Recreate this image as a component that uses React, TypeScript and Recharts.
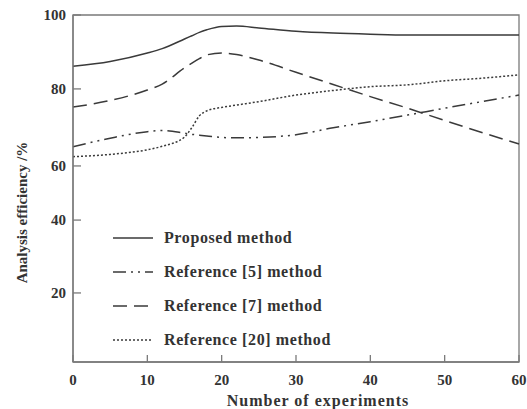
import { LineChart, Line, XAxis, YAxis, Legend, ReferenceArea } from "recharts";

// number of experiments (x) and analysis efficiency (%) per method
const experiments = [0, 5, 10, 12, 15, 16, 17, 18, 20, 22, 25, 30, 35, 40, 45, 50, 55, 60];
const proposed = [86.1, 87.4, 89.7, 90.9, 93.5, 94.4, 95.3, 96.0, 96.9, 97.0, 96.5, 95.6, 95.1, 94.8, 94.6, 94.6, 94.6, 94.6];
const ref5 = [65.0, 67.2, 68.9, 69.2, 68.5, 68.2, 68.0, 67.8, 67.4, 67.3, 67.4, 68.1, 69.9, 71.5, 73.2, 75.0, 76.7, 78.4];
const ref7 = [75.3, 77.0, 79.7, 81.3, 85.7, 87.0, 88.2, 89.2, 89.7, 89.3, 87.8, 84.5, 81.2, 78.0, 75.0, 71.8, 68.7, 65.7];
const ref20 = [62.4, 63.0, 64.2, 65.1, 67.5, 70.0, 73.0, 74.3, 75.2, 75.8, 76.7, 78.4, 79.6, 80.6, 81.1, 82.2, 82.9, 83.8];

const xTicks = [0, 10, 20, 30, 40, 50, 60];
const yTicks = [20, 40, 60, 80, 100];

// the original figure's y axis is not evenly spaced: where each mark sits (0..1 along the axis)
const yMarks = [0, 20, 40, 60, 80, 100];
const yMarkPos = [0, 0.199, 0.409, 0.565, 0.787, 1];

const series = [
  { key: "proposed", name: "Proposed method", dash: undefined as string | undefined },
  { key: "ref5", name: "Reference [5] method", dash: "13 5 2 5 2 5" },
  { key: "ref7", name: "Reference [7] method", dash: "14 7" },
  { key: "ref20", name: "Reference [20] method", dash: "2 2" },
];

const rows = experiments.map((x, i) => ({
  x,
  proposed: proposed[i],
  ref5: ref5[i],
  ref7: ref7[i],
  ref20: ref20[i],
}));

function piecewiseScale(): any {
  let dom: number[] = [0, 100];
  let rng: number[] = [0, 1];
  const s: any = (v: number) => {
    let i = 0;
    while (i < yMarks.length - 2 && v > yMarks[i + 1]) i++;
    const f = yMarkPos[i] + ((v - yMarks[i]) / (yMarks[i + 1] - yMarks[i])) * (yMarkPos[i + 1] - yMarkPos[i]);
    return rng[0] + (rng[1] - rng[0]) * f;
  };
  s.domain = (d?: number[]) => {
    if (d === undefined) return dom.slice();
    dom = d.slice();
    return s;
  };
  s.range = (r?: number[]) => {
    if (r === undefined) return rng.slice();
    rng = r.slice();
    return s;
  };
  s.ticks = () => yTicks;
  s.copy = () => piecewiseScale().domain(dom).range(rng);
  return s;
}

const FONT = '"Liberation Serif", "Times New Roman", serif';
const INK = "#333";
const LINE = "#3a3a3a";
const AXIS = "#7a7a7a";

function LegendBox() {
  return (
    <div style={{ fontFamily: FONT, fontWeight: 700, fontSize: 16, color: INK, letterSpacing: 0.6 }}>
      {series.map((s) => (
        <div key={s.key} style={{ display: "flex", alignItems: "center", height: 34 }}>
          <svg width={40} height={10} style={{ marginRight: 11 }}>
            <line x1={0} y1={5} x2={40} y2={5} stroke={LINE} strokeWidth={1.5} strokeDasharray={s.dash} />
          </svg>
          <span>{s.name}</span>
        </div>
      ))}
    </div>
  );
}

export default function App() {
  const tickStyle = { fontFamily: FONT, fontWeight: 700, fontSize: 15, fill: INK };
  return (
    <div style={{ position: "absolute", left: 0, top: 0, width: 527, height: 409, background: "#fff" }}>
      <LineChart width={527} height={409} data={rows} margin={{ top: 15, right: 8, bottom: 0, left: 0 }}>
        <XAxis
          dataKey="x"
          type="number"
          domain={[0, 60]}
          ticks={xTicks}
          height={47}
          tick={tickStyle}
          tickSize={-7}
          tickMargin={19}
          axisLine={{ stroke: AXIS, strokeWidth: 1.3 }}
          tickLine={{ stroke: AXIS, strokeWidth: 1.3 }}
          label={{
            value: "Number of experiments",
            position: "insideBottom",
            offset: 3,
            dx: 22,
            style: { fontFamily: FONT, fontWeight: 700, fontSize: 16, fill: INK, letterSpacing: 1 },
          }}
        />
        <YAxis
          type="number"
          domain={[0, 100]}
          scale={piecewiseScale()}
          ticks={yTicks}
          width={73}
          tick={tickStyle}
          tickSize={-8}
          tickMargin={15}
          axisLine={{ stroke: AXIS, strokeWidth: 1.3 }}
          tickLine={{ stroke: AXIS, strokeWidth: 1.3 }}
          label={{
            value: "Analysis efficiency /%",
            position: "center",
            angle: -90,
            dx: -15,
            dy: 24,
            style: { fontFamily: FONT, fontWeight: 700, fontSize: 15, fill: INK },
          }}
        />
        <ReferenceArea x1={0} x2={60} y1={0} y2={100} fill="none" stroke={AXIS} strokeWidth={1.3} />
        {series.map((s) => (
          <Line
            key={s.key}
            type="monotone"
            dataKey={s.key}
            name={s.name}
            stroke={LINE}
            strokeWidth={1.5}
            strokeDasharray={s.dash}
            dot={false}
            isAnimationActive={false}
          />
        ))}
        <Legend
          layout="vertical"
          align="center"
          verticalAlign="middle"
          content={() => <LegendBox />}
          wrapperStyle={{ left: 113, top: 221, width: "auto", height: "auto" }}
        />
      </LineChart>
    </div>
  );
}
